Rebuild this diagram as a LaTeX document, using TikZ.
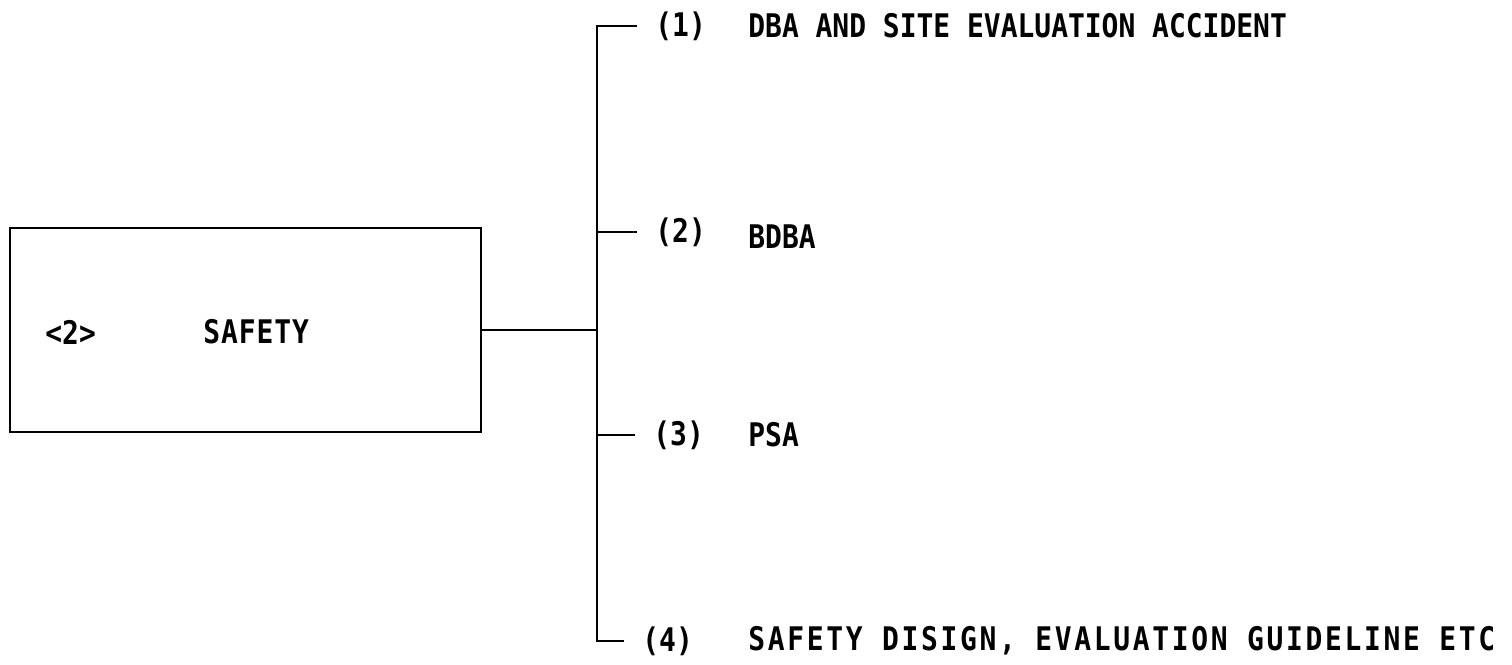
\documentclass[tikz,border=0pt]{standalone}
\usepackage{fontspec}
\setmonofont{DejaVu Sans Mono}[FakeStretch=0.86]
\usetikzlibrary{positioning}

\begin{document}
\begin{tikzpicture}[
      x=0.02cm, y=-0.02cm,
      every node/.style={font=\ttfamily\bfseries\fontsize{18.5}{22}\selectfont},
      wire/.style={line width=1.6pt},
      mainbox/.style={draw, line width=1.6pt, minimum width=9.42cm, minimum height=4.08cm, inner sep=0pt},
      tag/.style={anchor=west, inner ysep=0pt, inner xsep=0.36cm},
      item/.style={anchor=west, inner sep=0pt},
      wide/.style={font=\ttfamily\bfseries\fontsize{18.5}{22}\selectfont\addfontfeature{LetterSpace=8.2}},
    ]
    \useasboundingbox (0,0) rectangle (1512,665);

    \node[mainbox] (safety) at (245.5,330) {};
    \node[item] (num) at (45,332) {<2>};
    \node[item, font=\ttfamily\bfseries\fontsize{18.5}{22}\selectfont\addfontfeature{LetterSpace=2.8}] (title) at (203,332) {SAFETY};

    \coordinate (hub) at (597,330);

    \node[tag] (t1) at (637,26) {(1)};
    \node[tag] (t2) at (637,232) {(2)};
    \node[tag] (t3) at (635,435) {(3)};
    \node[tag] (t4) at (624,641) {(4)};

    \node[item] (d1) at (748,26) {DBA AND SITE EVALUATION ACCIDENT};
    \node[item] (d2) at (748,237) {BDBA};
    \node[item] (d3) at (748,435) {PSA};
    \node[item, wide] (d4) at (748,641) {SAFETY DISIGN, EVALUATION GUIDELINE ETC};

    \draw[wire] (safety.east) -- (hub);
    \draw[wire] (t1.west) -| (hub) |- (t4.west);
    \draw[wire] (hub |- t2.west) -- (t2.west);
    \draw[wire] (hub |- t3.west) -- (t3.west);
  \end{tikzpicture}
\end{document}
